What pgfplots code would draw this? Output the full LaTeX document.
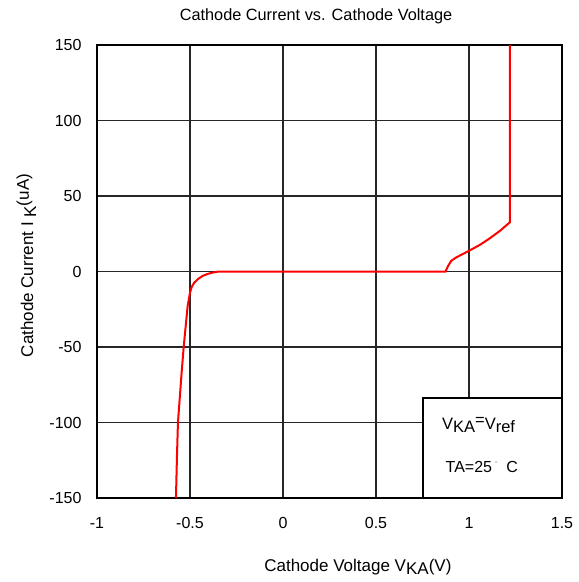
\documentclass[border=0pt]{standalone}
\usepackage{pgfplots}
\pgfplotsset{compat=1.18}
\usepackage{fontspec}
\setmainfont{Liberation Sans}

\newcommand{\sub}[1]{\raisebox{-0.35ex}{#1}}

\begin{document}
\fontsize{16}{18}\selectfont
\begin{tikzpicture}
\begin{axis}[
  scale only axis,
  width=465pt, height=453pt,
  xmin=-1, xmax=1.5, ymin=-150, ymax=150,
  xtick={-1,-0.5,0,0.5,1,1.5},
  ytick={-150,-100,-50,0,50,100,150},
  grid=major,
  grid style={black!85, line width=1.4pt},
  axis line style={black, line width=1.7pt},
  major tick length=0pt,
  /pgf/number format/assume math mode=true,
  tick label style={font=\fontsize{16}{18}\selectfont, text=black},
  xticklabel style={yshift=-14pt},
  yticklabel style={xshift=-10pt},
  title={Cathode Current vs. Cathode Voltage},
  title style={at={(0.471,1.041)}, anchor=base, font=\fontsize{16.3}{18}\selectfont},
  xlabel={Cathode Voltage V\sub{KA}(V)},
  xlabel style={at={(0.561,-0.163)}, anchor=base, font=\fontsize{17}{19}\selectfont},
  ylabel={Cathode Current I \sub{K}\raisebox{0.45ex}{(uA)}},
  ylabel style={at={(-0.1376,0.513)}, anchor=base, font=\fontsize{17}{19}\selectfont},
]
\addplot[red, line width=2pt] coordinates {
  (-0.5755,-150) (-0.570,-122) (-0.5648,-100) (-0.545,-67) (-0.534,-50)
  (-0.5126,-22.8) (-0.5,-14) (-0.49,-10) (-0.4766,-7.3) (-0.455,-4.8)
  (-0.4317,-2.9) (-0.405,-1.6) (-0.378,-0.7) (-0.355,-0.2) (-0.333,0)
  (0.874,0) (0.886,3.3) (0.904,7) (0.931,9.3) (1.0,13.7) (1.058,17.6)
  (1.112,22) (1.166,26.9) (1.220,32.6) (1.220,150)
};
\draw[black, line width=1.7pt, fill=white] (axis cs:0.753,-84) rectangle (axis cs:1.5,-150);
\node[anchor=base west, font=\fontsize{16.5}{18}\selectfont] at (axis cs:0.826,-104.6) {V\sub{KA}\raisebox{0.4ex}{=}V\sub{ref}};
\node[anchor=base west, font=\fontsize{16}{18}\selectfont] at (axis cs:0.845,-133) {TA=25\,\raisebox{0.7ex}{\color{black!40}\fontsize{7}{8}\selectfont°}\ \ C};
\end{axis}
\pgfresetboundingbox
\path (-97pt,-84pt) rectangle (482pt,498pt);
\end{tikzpicture}
\end{document}
